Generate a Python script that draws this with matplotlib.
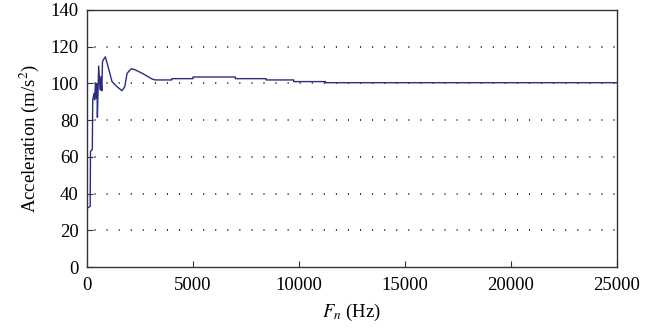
import matplotlib
matplotlib.use("Agg")
import matplotlib.pyplot as plt

freq_hz = [0, 150, 165, 250, 270, 330, 360, 400, 440, 470, 490, 550, 600, 630, 660, 700,
           730, 780, 865, 1020, 1180, 1420, 1650, 1780, 1890, 2090, 2280, 2670, 3070,
           3220, 4000, 4000, 5000, 5000, 7000, 7000, 8450, 8450, 9750, 9750, 11250,
           11250, 25000]
accel = [32, 33, 63, 64, 91, 94.6, 91, 100, 92, 100, 81.5, 109.5, 100, 96.4, 103.7,
         96, 111.8, 113, 114.5, 108, 101, 98.2, 96, 98.2, 105.5, 108, 107.4, 105.1,
         102.4, 101.9, 101.9, 102.6, 102.6, 103.5, 103.5, 102.6, 102.6, 101.9, 101.9,
         101.0, 101.0, 100.4, 100.4]

x_ticks = [0, 5000, 10000, 15000, 20000, 25000]
y_ticks = [0, 20, 40, 60, 80, 100, 120, 140]
grid_levels = [20, 40, 60, 80, 100, 120]

plt.rcParams['font.family'] = ['Liberation Serif', 'DejaVu Serif']
plt.rcParams['mathtext.fontset'] = 'stix'

fig = plt.figure(figsize=(6.55, 3.34), dpi=100)
ax = fig.add_axes([87/655, 1 - 267/334, (617-87)/655, (267-10)/334])

for g in grid_levels:
    ax.axhline(g, color='black', linewidth=1.1, linestyle=(3, (0.7, 7.2)), zorder=1)

ax.plot(freq_hz, accel, color='#2a2f7d', linewidth=1.0, zorder=3)

ax.set_xlim(0, 25000)
ax.set_ylim(0, 140)
ax.set_xticks(x_ticks)
ax.set_yticks(y_ticks)
ax.tick_params(direction='in', length=4, width=0.8, labelsize=13.5, color='#333333',
               top=False, right=False, pad=6)
ax.tick_params(axis='x', pad=7)
for s in ax.spines.values():
    s.set_color('#333333')
    s.set_linewidth(1.0)

ax.set_xlabel(r'$F_n$ (Hz)', fontsize=13.5, labelpad=6)
ax.set_ylabel(r'Acceleration (m/s$^2$)', fontsize=13.5, labelpad=7)

fig.savefig('out.png', dpi=100)
